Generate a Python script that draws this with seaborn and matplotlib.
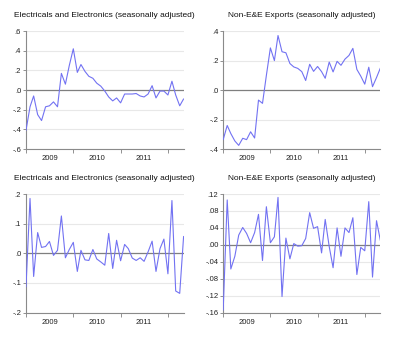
import numpy as np
import pandas as pd
import matplotlib
matplotlib.use("Agg")
import matplotlib.pyplot as plt
import matplotlib.dates as mdates
from matplotlib.ticker import FuncFormatter, FixedLocator
import seaborn as sns

months = pd.date_range("2009-01-01", periods=41, freq="MS")

ee_yoy = [-0.41, -0.17, -0.06, -0.25, -0.31, -0.17, -0.16, -0.12, -0.17, 0.17,
          0.06, 0.25, 0.42, 0.18, 0.26, 0.19, 0.14, 0.12, 0.07, 0.04,
          -0.01, -0.07, -0.11, -0.08, -0.13, -0.04, -0.04, -0.04, -0.035, -0.06,
          -0.07, -0.04, 0.045, -0.08, -0.01, -0.01, -0.05, 0.09, -0.05, -0.16,
          -0.09]
nonee_yoy = [-0.336, -0.24, -0.295, -0.345, -0.375, -0.327, -0.336, -0.283, -0.325, -0.068,
             -0.09, 0.10, 0.286, 0.20, 0.37, 0.26, 0.253, 0.18, 0.157, 0.147,
             0.125, 0.065, 0.175, 0.127, 0.16, 0.125, 0.08, 0.19, 0.123, 0.195,
             0.168, 0.21, 0.235, 0.283, 0.14, 0.095, 0.04, 0.155, 0.023, 0.085,
             0.15]
ee_mom = [-0.113, 0.185, -0.078, 0.07, 0.02, 0.023, 0.04, -0.007, 0.01, 0.126,
          -0.015, 0.013, 0.037, -0.061, 0.01, -0.022, -0.024, 0.013, -0.019, -0.029,
          -0.04, 0.067, -0.051, 0.044, -0.025, 0.03, 0.016, -0.016, -0.024, -0.015,
          -0.027, 0.005, 0.041, -0.061, 0.016, 0.048, -0.069, 0.178, -0.127, -0.135,
          0.057]
nonee_mom = [-0.154, 0.106, -0.057, -0.027, 0.023, 0.041, 0.027, 0.005, 0.029, 0.072,
             -0.037, 0.09, 0.005, 0.019, 0.112, -0.122, 0.016, -0.033, 0.003, -0.003,
             -0.002, 0.015, 0.076, 0.039, 0.043, -0.019, 0.06, -0.004, -0.054, 0.04,
             -0.027, 0.04, 0.029, 0.064, -0.07, -0.006, -0.014, 0.102, -0.076, 0.057,
             0.01]

titles = ["Electricals and Electronics (seasonally adjusted)",
          "Non-E&E Exports (seasonally adjusted)",
          "Electricals and Electronics (seasonally adjusted)",
          "Non-E&E Exports (seasonally adjusted)"]
year_labels = ["2009", "2010", "2011"]
yticks_list = [
    [-0.6, -0.4, -0.2, 0.0, 0.2, 0.4, 0.6],
    [-0.4, -0.2, 0.0, 0.2, 0.4],
    [-0.2, -0.1, 0.0, 0.1, 0.2],
    [-0.16, -0.12, -0.08, -0.04, 0.0, 0.04, 0.08, 0.12],
]
decimals = [1, 1, 1, 2]
series = [ee_yoy, nonee_yoy, ee_mom, nonee_mom]

sns.set_style("white")
plt.rcParams["font.family"] = ["Liberation Sans", "DejaVu Sans"]

fig = plt.figure(figsize=(4.0, 3.38), dpi=100)
positions = [
    [0.065, 0.559, 0.394, 0.349],
    [0.558, 0.559, 0.393, 0.349],
    [0.065, 0.075, 0.394, 0.351],
    [0.558, 0.075, 0.393, 0.351],
]

def make_fmt(d):
    def f(v, pos):
        s = f"{abs(v):.{d}f}"
        if s.startswith("0"):
            s = s[1:]
        if v < -1e-9:
            s = "-" + s
        return s
    return FuncFormatter(f)

major = [pd.Timestamp(f"{y}-01-01") for y in (2009, 2010, 2011, 2012)]
minor = [pd.Timestamp(f"{y}-07-01") for y in year_labels]

for i in range(4):
    ax = fig.add_axes(positions[i])
    df = pd.DataFrame({"month": months, "value": series[i]})
    yt = yticks_list[i]
    for v in yt:
        if abs(v) > 1e-9:
            ax.axhline(v, color="#e8e8e8", lw=0.8, zorder=0)
    ax.axhline(0, color="#7f7f7f", lw=0.9, zorder=1)
    sns.lineplot(data=df, x="month", y="value", ax=ax, color="#7272f2",
                 lw=0.8, zorder=3)
    ax.set_xlim(months[0], months[-1])
    ax.set_ylim(yt[0], yt[-1])
    ax.set_yticks(yt)
    ax.yaxis.set_major_formatter(make_fmt(decimals[i]))
    ax.xaxis.set_major_locator(FixedLocator(mdates.date2num(major)))
    ax.xaxis.set_minor_locator(FixedLocator(mdates.date2num(minor)))
    ax.xaxis.set_major_formatter(FuncFormatter(lambda v, p: ""))
    ax.xaxis.set_minor_formatter(FuncFormatter(
        lambda v, p: year_labels[p] if p is not None and p < len(year_labels) else ""))
    ax.tick_params(axis="x", which="major", length=3, width=0.6, color="#808080",
                   direction="out", bottom=True)
    ax.tick_params(axis="x", which="minor", length=0, labelsize=5.5, pad=4.5,
                   labelcolor="#222222", bottom=True)
    ax.tick_params(axis="y", length=2, width=0.6, color="#808080", labelsize=5.5,
                   pad=1.5, labelcolor="#222222", left=True)
    ax.set_xlabel("")
    ax.set_ylabel("")
    for side in ("top", "right"):
        ax.spines[side].set_visible(False)
    for side in ("left", "bottom"):
        ax.spines[side].set_color("#8a8a8a")
        ax.spines[side].set_linewidth(0.8)
    ax.set_title(titles[i], fontsize=6.0, pad=10, color="#111111")

fig.savefig("out.png", dpi=100)
